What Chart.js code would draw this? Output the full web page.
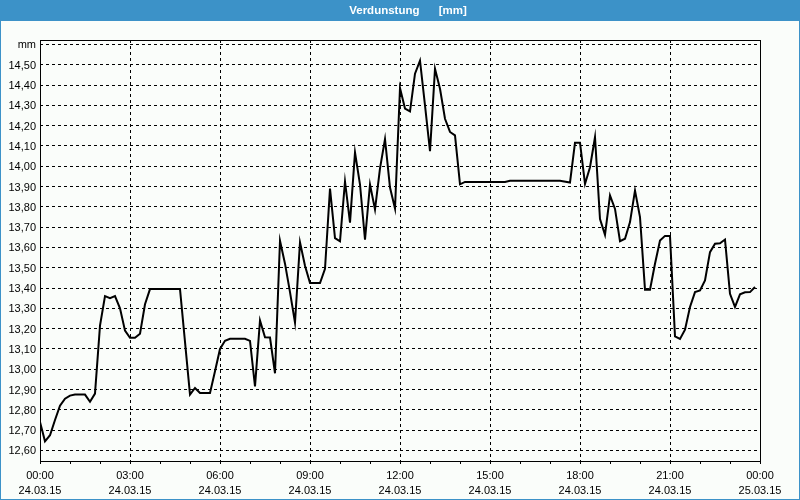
<!DOCTYPE html>
<html>
<head>
<meta charset="utf-8">
<script src="https://cdn.jsdelivr.net/npm/chart.js@4/dist/chart.umd.min.js"></script>
<style>
html,body{margin:0;padding:0;background:#fafdfa;}
#wrap{width:800px;height:500px;position:relative;}
canvas{display:block;}
</style>
</head>
<body>
<div id="wrap"><canvas id="c" width="800" height="500"></canvas></div>
<script>
// ---- data ----
const chartTitle = "     Verdunstung      [mm]";
const times = [
  "00:00","00:10","00:20","00:30","00:40","00:50","01:00","01:10","01:30","01:40","01:50",
  "02:00","02:10","02:20","02:30","02:40","02:50","03:00","03:10","03:20","03:30","03:40",
  "04:40","05:00","05:10","05:20","05:40","05:50","06:00","06:10","06:20","06:50",
  "07:00","07:10","07:20","07:30","07:40","07:50","08:00","08:10","08:20","08:30","08:40","08:50",
  "09:00","09:20","09:30","09:40","09:50","10:00","10:10","10:20","10:30","10:40","10:50",
  "11:00","11:10","11:20","11:30","11:40","11:50","12:00","12:10","12:20","12:30","12:40","12:50",
  "13:00","13:10","13:20","13:30","13:40","13:50","14:00","14:10","15:30","15:40","17:20","17:40","17:50",
  "18:00","18:10","18:20","18:30","18:40","18:50","19:00","19:10","19:20","19:30","19:40","19:50",
  "20:00","20:10","20:20","20:30","20:40","20:50","21:00","21:10","21:20","21:30","21:40","21:50",
  "22:00","22:10","22:20","22:30","22:40","22:50","23:00","23:10","23:20","23:30","23:40","23:50"
];
const values = [
  12.74,12.645,12.675,12.75,12.82,12.855,12.87,12.875,12.875,12.84,12.88,
  13.215,13.36,13.35,13.36,13.30,13.19,13.155,13.155,13.175,13.32,13.395,
  13.395,12.875,12.908,12.883,12.883,12.99,13.10,13.14,13.15,13.15,
  13.14,12.915,13.24,13.157,13.156,12.98,13.633,13.52,13.38,13.23,13.625,13.51,
  13.425,13.425,13.495,13.89,13.646,13.63,13.925,13.722,14.068,13.91,13.638,
  13.91,13.787,13.99,14.134,13.895,13.792,14.385,14.284,14.27,14.456,14.52,14.30,
  14.074,14.48,14.382,14.234,14.169,14.152,13.911,13.923,13.923,13.928,13.928,13.92,14.116,
  14.116,13.913,13.995,14.143,13.74,13.662,13.856,13.79,13.631,13.643,13.725,13.88,
  13.75,13.392,13.392,13.52,13.634,13.657,13.657,13.162,13.149,13.195,13.307,13.38,
  13.388,13.438,13.577,13.618,13.621,13.639,13.372,13.307,13.369,13.379,13.38,13.405
];
const xTickTimes = ["00:00","03:00","06:00","09:00","12:00","15:00","18:00","21:00","00:00"];
const xTickDates = ["24.03.15","24.03.15","24.03.15","24.03.15","24.03.15","24.03.15","24.03.15","24.03.15","25.03.15"];
const yTickValues = [12.6,12.7,12.8,12.9,13.0,13.1,13.2,13.3,13.4,13.5,13.6,13.7,13.8,13.9,14.0,14.1,14.2,14.3,14.4,14.5,14.6];
const yTickLabels = ["12,60","12,70","12,80","12,90","13,00","13,10","13,20","13,30","13,40","13,50","13,60","13,70","13,80","13,90","14,00","14,10","14,20","14,30","14,40","14,50","mm"];

function toHours(t){ const p = t.split(":"); return Number(p[0]) + Number(p[1]) / 60; }
const points = times.map((t, i) => ({ x: toHours(t), y: values[i] }));

const FONT = "'Liberation Sans', Arial, sans-serif";
Chart.defaults.font.family = FONT;
Chart.defaults.font.size = 11;
Chart.defaults.color = "#000";

const framePlugin = {
  id: "frame",
  beforeDraw(chart) {
    const ctx = chart.ctx;
    ctx.save();
    ctx.fillStyle = "#fafdfa";
    ctx.fillRect(0, 0, 800, 500);
    ctx.fillStyle = "#3c92c8";
    ctx.fillRect(0, 0, 800, 21);
    ctx.fillRect(0, 0, 1, 500);
    ctx.fillRect(799, 0, 1, 500);
    ctx.fillRect(0, 499, 800, 1);
    ctx.restore();
  },
  afterDraw(chart) {
    const a = chart.chartArea;
    const ctx = chart.ctx;
    ctx.save();
    ctx.strokeStyle = "#000";
    ctx.lineWidth = 1;
    ctx.setLineDash([]);
    ctx.strokeRect(a.left + 0.5, a.top + 0.5, a.right - a.left, a.bottom - a.top);
    ctx.restore();
  }
};

new Chart(document.getElementById("c"), {
  type: "line",
  data: {
    datasets: [{
      data: points,
      borderColor: "#000",
      borderWidth: 2,
      pointRadius: 0,
      tension: 0,
      fill: false
    }]
  },
  options: {
    responsive: false,
    animation: false,
    events: [],
    layout: { padding: 0 },
    plugins: {
      legend: { display: false },
      tooltip: { enabled: false },
      title: {
        display: true,
        text: chartTitle,
        color: "#fff",
        font: { family: FONT, size: 11.5, weight: "bold", lineHeight: 1.2 },
        padding: { top: 4, bottom: 22.2 }
      }
    },
    scales: {
      x: {
        type: "linear",
        min: 0,
        max: 24,
        afterFit(s) { s.height = 39; },
        border: { display: false, dash: [3, 3] },
        grid: {
          color(ctx) {
            const v = ctx.tick ? ctx.tick.value : -1;
            return (v % 3 === 0 && v > 0 && v < 24) ? "#000" : "rgba(0,0,0,0)";
          },
          lineWidth: 1,
          drawTicks: true,
          tickLength: 3,
          tickColor: "#000",
          tickWidth: 1,
          tickBorderDash: []
        },
        ticks: {
          stepSize: 1,
          autoSkip: false,
          maxRotation: 0,
          minRotation: 0,
          padding: 4,
          color: "#000",
          font: { family: FONT, size: 11, lineHeight: 15 / 11 },
          callback(v) {
            if (v % 3 !== 0) return "";
            const i = v / 3;
            return [xTickTimes[i], xTickDates[i]];
          }
        }
      },
      y: {
        type: "linear",
        position: "left",
        min: 12.548,
        max: 14.622,
        afterFit(s) { s.width = 40; },
        afterBuildTicks(s) { s.ticks = yTickValues.map(v => ({ value: v })); },
        border: { display: false, dash: [3, 3] },
        grid: {
          color: "#000",
          lineWidth: 1,
          drawTicks: false
        },
        ticks: {
          padding: 4,
          labelOffset: 1,
          color: "#000",
          font: { family: FONT, size: 11 },
          callback(v, i) { return yTickLabels[i]; }
        }
      },
      yRight: {
        type: "linear",
        position: "right",
        display: true,
        min: 12.548,
        max: 14.622,
        afterFit(s) { s.width = 40; },
        border: { display: false },
        grid: { display: false, drawOnChartArea: false, drawTicks: false },
        ticks: { display: false }
      }
    }
  },
  plugins: [framePlugin]
});
</script>
</body>
</html>
